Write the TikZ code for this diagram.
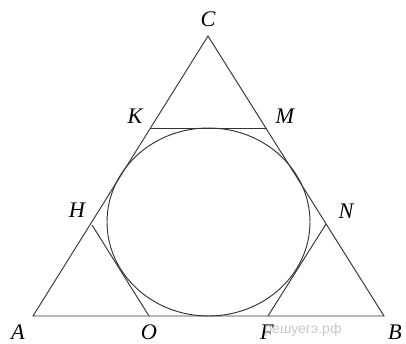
\documentclass[tikz,border=0pt]{standalone}
\usepackage{fontspec}
\setmainfont{Liberation Serif}
\newfontfamily\wmfont{Liberation Sans}
\usetikzlibrary{positioning}

\begin{document}
\begin{tikzpicture}[
    x=0.03cm, y=-0.03cm,
    edge/.style={draw=black!80, line width=0.8pt},
    lbl/.style={font=\fontsize{19}{21}\selectfont\itshape, inner sep=0pt},
    wmark/.style={font=\fontsize{12}{14}\selectfont\wmfont, text=black!22, inner sep=0pt}
]
\useasboundingbox (0,0) rectangle (406,344);

%% ===== VERTICES AND TANGENT POINTS =====
\coordinate (A) at (33,316);
\coordinate (B) at (384,316);
\coordinate (C) at (208,36);
\coordinate (K) at (151,128);
\coordinate (M) at (267,128);
\coordinate (H) at (92,225);
\coordinate (N) at (326,224);
\coordinate (O) at (149,316);
\coordinate (F) at (268,316);
\coordinate (ctr) at (208.5,222);

%% ===== TRIANGLE AND CUTS =====
\draw[edge, line join=miter] (A) -- (B) -- (C) -- cycle;
\draw[edge] (K) -- (M);
\draw[edge] (H) -- (O);
\draw[edge] (N) -- (F);

%% ===== INSCRIBED OVAL =====
\draw[edge] (ctr) ellipse [x radius=101.5, y radius=94];

%% ===== LABELS =====
\node[lbl] (lA) at (18,332) {A};
\node[lbl] (lB) at (395,332) {B};
\node[lbl] (lC) at (208,19) {C};
\node[lbl] (lK) at (135,116) {K};
\node[lbl] (lM) at (285,116) {M};
\node[lbl] (lH) at (77,210) {H};
\node[lbl] (lN) at (346,211) {N};
\node[lbl] (lO) at (149,332) {O};
\node[lbl] (lF) at (267,332) {F};

\node[wmark] (wm) at (303,330) {решуегэ.рф};

\end{tikzpicture}
\end{document}
